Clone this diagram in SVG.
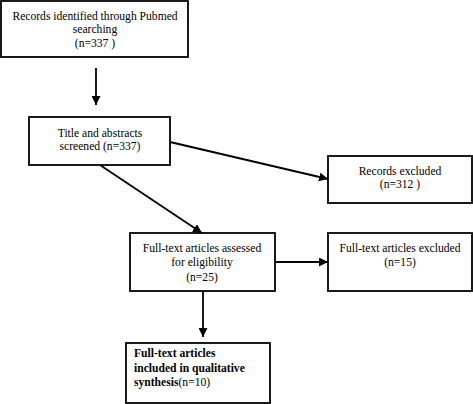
<svg xmlns="http://www.w3.org/2000/svg" width="473" height="404" viewBox="0 0 473 404" font-family="'Liberation Serif', 'Times New Roman', serif">
<defs>
<marker id="ah" viewBox="0 0 10 10" refX="10" refY="5" markerWidth="5" markerHeight="5" orient="auto" markerUnits="strokeWidth">
<path d="M0,0 L10,5 L0,10 z" fill="#000"/>
</marker>
<style>
.box{fill:#fff;stroke:#000;stroke-width:1.8}
.t{font-family:"Liberation Serif","Times New Roman",serif;font-size:11.6px;fill:#000;text-anchor:middle}
.b{font-weight:bold;text-anchor:start}
.n{font-weight:normal}
.c{stroke:#000;stroke-width:1.8;fill:none}
</style>
</defs>
<rect width="473" height="404" fill="#fff"/>
<g id="connectors">
<line class="c" x1="96" y1="68" x2="96" y2="105" marker-end="url(#ah)"/>
<line class="c" x1="170" y1="142" x2="328" y2="179" marker-end="url(#ah)"/>
<line class="c" x1="100" y1="165" x2="202" y2="233" marker-end="url(#ah)"/>
<line class="c" x1="275" y1="262" x2="328" y2="262" marker-end="url(#ah)"/>
<line class="c" x1="203" y1="291" x2="203" y2="337" marker-end="url(#ah)"/>
</g>
<g id="n1">
<rect class="box" x="1" y="1" width="187" height="56"/>
<text class="t" x="95" y="20" font-family="Liberation Serif, serif">Records identified through Pubmed</text>
<text class="t" x="95" y="33" font-family="Liberation Serif, serif">searching</text>
<text class="t" x="95" y="47" font-family="Liberation Serif, serif">(n=337 )</text>
</g>
<g id="n2">
<rect class="box" x="29" y="117" width="141" height="48"/>
<text class="t" x="100" y="137" font-family="Liberation Serif, serif">Title and abstracts</text>
<text class="t" x="100" y="150" font-family="Liberation Serif, serif">screened (n=337)</text>
</g>
<g id="n3">
<rect class="box" x="328" y="156" width="144" height="47"/>
<text class="t" x="400" y="175" font-family="Liberation Serif, serif">Records excluded</text>
<text class="t" x="400" y="188" font-family="Liberation Serif, serif">(n=312 )</text>
</g>
<g id="n4">
<rect class="box" x="130" y="233" width="145" height="58"/>
<text class="t" x="202" y="252" font-family="Liberation Serif, serif">Full-text articles assessed</text>
<text class="t" x="202" y="266" font-family="Liberation Serif, serif">for eligibility</text>
<text class="t" x="202" y="281" font-family="Liberation Serif, serif">(n=25)</text>
</g>
<g id="n5">
<rect class="box" x="328" y="233" width="144" height="58"/>
<text class="t" x="400" y="252" font-family="Liberation Serif, serif">Full-text articles excluded</text>
<text class="t" x="400" y="266" font-family="Liberation Serif, serif">(n=15)</text>
</g>
<g id="n6">
<rect class="box" x="126" y="343" width="144" height="60"/>
<text class="t b" x="134" y="357" font-family="Liberation Serif, serif">Full-text articles</text>
<text class="t b" x="134" y="372" font-family="Liberation Serif, serif">included in qualitative</text>
<text class="t b" x="134" y="386" font-family="Liberation Serif, serif">synthesis<tspan class="n">(n=10)</tspan></text>
</g>
</svg>
